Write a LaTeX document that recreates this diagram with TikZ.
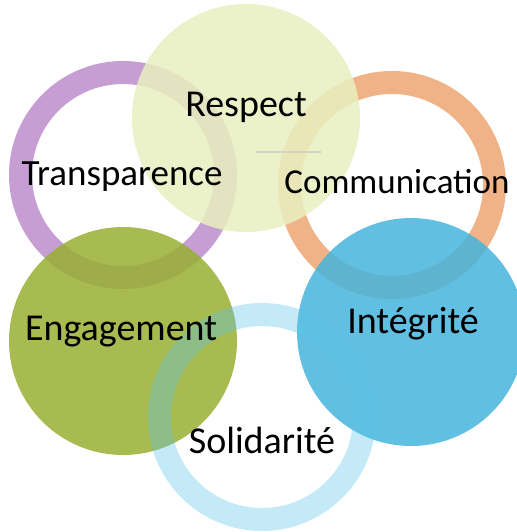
\documentclass[tikz,border=0pt]{standalone}
\usepackage{fontspec}
\setmainfont{Carlito}
\definecolor{purplering}{HTML}{BC8DCB}
\definecolor{orangering}{HTML}{EDA672}
\definecolor{respectfill}{HTML}{E8EFBF}
\definecolor{engagefill}{HTML}{98AF33}
\definecolor{integrfill}{HTML}{45B4DC}
\definecolor{solidring}{HTML}{59C3E8}
\definecolor{ghostline}{HTML}{D6D2BC}

\begin{document}
\begin{tikzpicture}[x=1pt, y=-1pt,
    ring/.style={line width=23pt, draw opacity=0.85},
    disc/.style={fill opacity=0.85},
    word/.style={anchor=base, text=black, font=\fontsize{38}{40}\selectfont}]
    \useasboundingbox (0, 0) rectangle (516, 532);
    \coordinate (ctrans) at (123, 175);
    \coordinate (cresp) at (246, 118);
    \coordinate (ccomm) at (392, 185);
    \coordinate (cengage) at (123, 341);
    \coordinate (cintegr) at (411, 332);
    \coordinate (csolid) at (262, 417);
    % rings and discs
    \draw[ring, draw=purplering] (ctrans) circle (102.5pt);
    \draw[ring, draw=orangering] (ccomm) circle (102.5pt);
    \fill[disc, respectfill] (cresp) circle (114pt);
    \fill[disc, engagefill] (cengage) circle (114pt);
    \fill[disc, integrfill] (cintegr) circle (114pt);
    \draw[line width=23pt, draw=solidring, draw opacity=0.35] (csolid) circle (102.5pt);
    \coordinate (gl) at (256, 152);
    \coordinate (gr) at (321, 152);
    \draw[ghostline, line width=1.2pt] (gl) -- (gr);
    % labels
    \node[word] (respect) at (246, 117) {Respect};
    \node[word, font=\fontsize{37}{40}\selectfont] (trans) at (122, 185) {Transparence};
    \node[word, font=\fontsize{35}{40}\selectfont] (comm) at (397, 193) {Communication};
    \node[word] (engage) at (121, 340) {Engagement};
    \node[word] (integr) at (413, 333) {Intégrité};
    \node[word] (solid) at (262, 453) {Solidarité};
\end{tikzpicture}
\end{document}
